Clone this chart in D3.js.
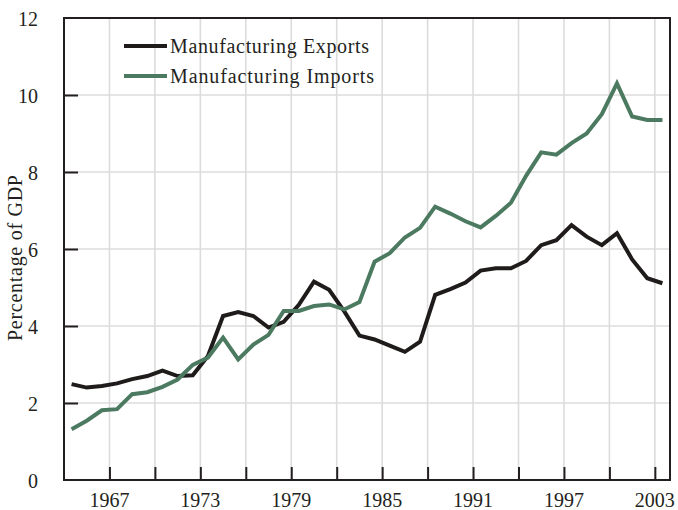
<!DOCTYPE html>
<meta charset="utf-8">
<style>

body {
  margin: 0;
  background: #fff;
}

text {
  font-family: "Liberation Serif", "Times New Roman", serif;
  fill: #231f20;
}

.grid line {
  stroke: #dcdcdc;
  stroke-width: 1.6px;
}

.series {
  fill: none;
  stroke-width: 4px;
}

</style>
<svg width="678" height="510"></svg>
<script src="https://cdn.jsdelivr.net/npm/d3@7/dist/d3.min.js"></script>
<script>

// annual values, % of GDP
var years = [1964, 1965, 1966, 1967, 1968, 1969, 1970, 1971, 1972, 1973,
             1974, 1975, 1976, 1977, 1978, 1979, 1980, 1981, 1982, 1983,
             1984, 1985, 1986, 1987, 1988, 1989, 1990, 1991, 1992, 1993,
             1994, 1995, 1996, 1997, 1998, 1999, 2000, 2001, 2002, 2003];

var exportsPct = [2.49, 2.40, 2.44, 2.51, 2.62, 2.70, 2.84, 2.70, 2.72, 3.22,
                  4.26, 4.36, 4.26, 3.96, 4.11, 4.55, 5.15, 4.94, 4.38, 3.75,
                  3.65, 3.49, 3.33, 3.59, 4.81, 4.96, 5.13, 5.44, 5.50, 5.50,
                  5.69, 6.10, 6.23, 6.62, 6.32, 6.10, 6.41, 5.73, 5.24, 5.11];

var importsPct = [1.32, 1.54, 1.81, 1.84, 2.23, 2.28, 2.42, 2.61, 2.99, 3.18,
                  3.70, 3.13, 3.52, 3.77, 4.39, 4.39, 4.52, 4.56, 4.43, 4.62,
                  5.67, 5.89, 6.30, 6.55, 7.10, 6.92, 6.72, 6.56, 6.86, 7.20,
                  7.90, 8.51, 8.45, 8.75, 9.00, 9.50, 10.30, 9.44, 9.35, 9.35];

var seriesNames = ["Manufacturing Exports", "Manufacturing Imports"];
var seriesColors = ["#1f1b1b", "#4b7a60"];

var yTicks = [0, 2, 4, 6, 8, 10, 12];
var xTicks = [1967, 1970, 1973, 1976, 1979, 1982, 1985, 1988, 1991, 1994, 1997, 2000, 2003];
var xLabels = [1967, 1973, 1979, 1985, 1991, 1997, 2003];

var svg = d3.select("svg"),
    margin = {top: 18, right: 8, bottom: 30, left: 64},
    width = +svg.attr("width") - margin.left - margin.right,
    height = +svg.attr("height") - margin.top - margin.bottom;

var g = svg.append("g")
    .attr("transform", "translate(" + margin.left + "," + margin.top + ")");

var x = d3.scaleLinear().domain([1964, 2004]).range([0, width]);
var y = d3.scaleLinear().domain([0, 12]).range([height, 0]);

// grid
var grid = g.append("g").attr("class", "grid");
grid.selectAll(".gx")
  .data(xTicks)
  .enter().append("line")
    .attr("x1", function(d) { return x(d); })
    .attr("x2", function(d) { return x(d); })
    .attr("y1", 0)
    .attr("y2", height);
grid.selectAll(".gy")
  .data(yTicks.filter(function(d) { return d > 0 && d < 12; }))
  .enter().append("line")
    .attr("x1", 0)
    .attr("x2", width)
    .attr("y1", function(d) { return y(d); })
    .attr("y2", function(d) { return y(d); });

// lines, each year's value sits in the middle of the year
var line = d3.line()
    .x(function(d) { return x(d[0] + 0.5); })
    .y(function(d) { return y(d[1]); });

var series = [exportsPct, importsPct];
series.forEach(function(vals, i) {
  g.append("path")
      .datum(years.map(function(yr, j) { return [yr, vals[j]]; }))
      .attr("class", "series")
      .attr("stroke", seriesColors[i])
      .attr("d", line);
});

// axes
var yAxis = g.append("g")
    .call(d3.axisLeft(y).tickValues(yTicks).tickSize(-14).tickPadding(26).tickFormat(d3.format("d")));

var xAxis = g.append("g")
    .attr("transform", "translate(0," + height + ")")
    .call(d3.axisBottom(x).tickValues(xTicks).tickSize(-13).tickPadding(0).tickFormat(""));

xAxis.selectAll(".xl")
  .data(xLabels)
  .enter().append("text")
    .attr("x", function(d) { return x(d); })
    .attr("y", 27)
    .attr("text-anchor", "middle")
    .style("font-size", "20px")
    .text(function(d) { return d; });

yAxis.selectAll("text").style("font-size", "20px").attr("dy", "0.35em");
svg.selectAll(".tick line").attr("stroke", "#231f20").attr("stroke-width", 2);
svg.selectAll(".domain").remove();
// drop the tick marks sitting on the frame
yAxis.selectAll(".tick line").filter(function(d) { return d === 0 || d === 12; }).remove();

// frame
g.append("rect")
    .attr("width", width)
    .attr("height", height)
    .attr("fill", "none")
    .attr("stroke", "#231f20")
    .attr("stroke-width", 2);

// y title
svg.append("text")
    .attr("transform", "translate(22," + (margin.top + 240) + ") rotate(-90)")
    .attr("text-anchor", "middle")
    .attr("textLength", 166)
    .attr("lengthAdjust", "spacing")
    .style("font-size", "20px")
    .text("Percentage of GDP");

// legend
var legendWidths = [199, 204];
var legend = g.append("g").attr("transform", "translate(60,28)");
seriesNames.forEach(function(name, i) {
  legend.append("line")
      .attr("x1", 0).attr("x2", 43)
      .attr("y1", i * 30).attr("y2", i * 30)
      .attr("stroke", seriesColors[i])
      .attr("stroke-width", 4);
  legend.append("text")
      .attr("x", 46)
      .attr("y", i * 30)
      .attr("dy", "0.33em")
      .attr("textLength", legendWidths[i])
      .attr("lengthAdjust", "spacing")
      .style("font-size", "20px")
      .text(name);
});

</script>
